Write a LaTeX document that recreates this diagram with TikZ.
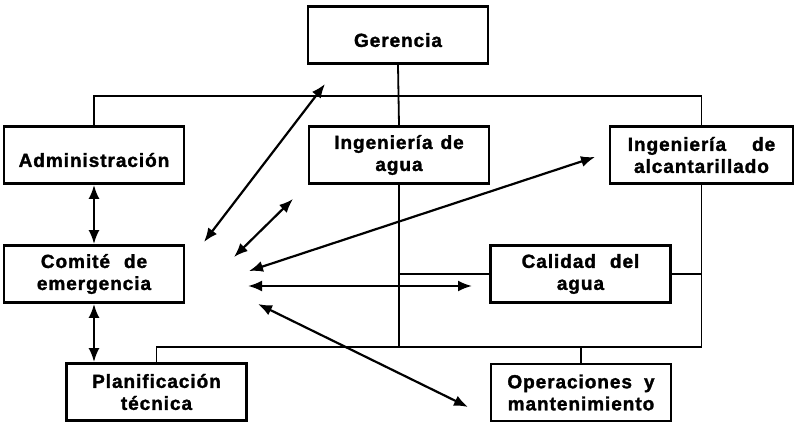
\documentclass[tikz,border=0pt]{standalone}
\usepackage{fontspec}
\newfontfamily\rotulo[LetterSpace=5, FakeBold=1.6]{Liberation Sans Bold}
\usetikzlibrary{arrows.meta}

\begin{document}
\begin{tikzpicture}[x=1pt,y=-1pt,
  caja/.style={draw, line width=2.8pt, minimum width=180pt, minimum height=57pt, inner sep=0pt, align=center, font=\rotulo\fontsize{19}{22}\selectfont},
  una/.style={text height=24pt},
  rama/.style={line width=1.8pt},
  flecha/.style={line width=2.2pt, {Latex[length=14pt,width=11pt]}-{Latex[length=14pt,width=11pt]}}]

\useasboundingbox (0,0) rectangle (804,430);

\node[caja, una] (ger) at (398,35) {Gerencia};
\node[caja, una] (adm) at (94,155) {Administración};
\node[caja] (ing) at (399,155) {Ingeniería\hspace{8pt}de\\agua};
\node[caja, minimum width=183pt] (alc) at (701.5,155) {Ingeniería\hspace{26pt}de\\alcantarillado};
\node[caja] (com) at (94,274) {Comité\hspace{14pt}de\\emergencia};
\node[caja] (cal) at (580.5,274) {Calidad\hspace{14pt}del\\agua};
\node[caja] (pla) at (156.5,392) {Planificación\\técnica};
\node[caja] (ope) at (581,392.5) {Operaciones\hspace{12pt}y\\mantenimiento};

\coordinate (bus1) at (399,96);
\coordinate (bus2) at (399,347);

\draw[rama] (ger.south) -- (ing.north);
\draw[rama] (adm.north) |- (bus1) -| (alc.north);
\draw[rama] (ing.south) -- (bus2);
\draw[rama] (alc.south) |- (bus2) -| (pla.north);
\draw[rama] (ope.north) -- (ope.north |- bus2);
\draw[rama] (cal.west) -- (cal.west -| ing.south);
\draw[rama] (cal.east) -- (cal.east -| alc.south);

\coordinate (c1) at (204,242);
\coordinate (g1) at (325,84);
\coordinate (c2) at (234,257);
\coordinate (i1) at (293,199);
\coordinate (c3) at (249,271);
\coordinate (a1) at (595,157);
\coordinate (c4) at (248,286);
\coordinate (k1) at (472,286);
\coordinate (c5) at (258,304);
\coordinate (o1) at (468,407);

\draw[flecha] (adm.south) -- (com.north);
\draw[flecha] (com.south) -- (com.south |- pla.north);
\draw[flecha] (c1) -- (g1);
\draw[flecha] (c2) -- (i1);
\draw[flecha] (c3) -- (a1);
\draw[flecha] (c4) -- (k1);
\draw[flecha] (c5) -- (o1);

\end{tikzpicture}
\end{document}
